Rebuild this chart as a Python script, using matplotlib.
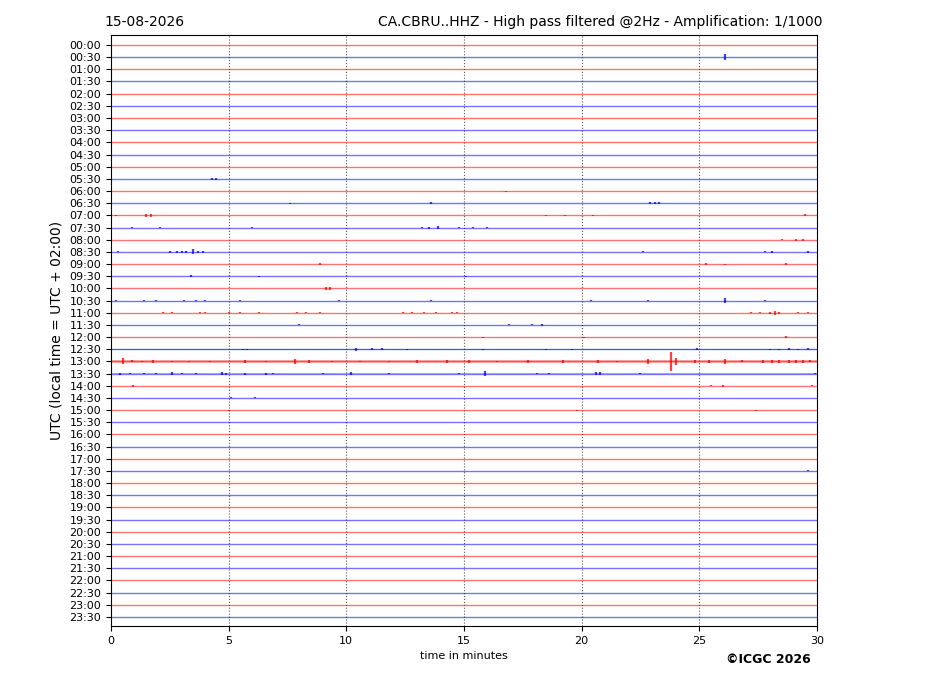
import matplotlib
matplotlib.use("Agg")
import matplotlib.pyplot as plt

# one row every 30 minutes, 48 rows
row_labels = ["%02d:%02d" % (h, m) for h in range(24) for m in (0, 30)]
row_colors = ["red", "blue"]

# background noise half-amplitude per row (row units), mostly tiny
noise = [0.0] * 48
noise[26] = 0.09
noise[27] = 0.07
noise[25] = 0.03
noise[17] = 0.02

# events: row index -> list of (minute, half amplitude in row units)
events = {
    1: [(26.1, 0.25)],
    11: [(4.3, 0.08), (4.45, 0.06)],
    12: [(16.8, 0.04), (22.1, 0.03)],
    13: [(7.6, 0.04), (13.6, 0.07), (22.9, 0.09), (23.1, 0.08), (23.3, 0.06)],
    14: [(0.2, 0.04), (1.5, 0.14), (1.7, 0.14), (18.5, 0.03), (19.3, 0.05), (20.5, 0.04), (29.5, 0.09)],
    15: [(0.9, 0.07), (2.1, 0.07), (6.0, 0.03), (13.2, 0.07), (13.5, 0.08), (13.9, 0.09),
         (14.8, 0.07), (15.4, 0.04), (16.0, 0.04)],
    16: [(28.5, 0.05), (29.1, 0.07), (29.4, 0.09)],
    17: [(0.3, 0.04), (2.5, 0.08), (2.8, 0.09), (3.0, 0.1), (3.2, 0.1), (3.5, 0.2), (3.7, 0.1),
         (3.9, 0.06), (21.8, 0.03), (22.6, 0.04), (27.8, 0.05), (28.1, 0.08), (29.6, 0.09)],
    18: [(8.9, 0.05), (12.6, 0.03), (25.3, 0.05), (26.1, 0.04), (28.7, 0.05)],
    19: [(3.4, 0.07), (6.3, 0.03), (15.1, 0.05)],
    20: [(9.15, 0.15), (9.3, 0.13)],
    21: [(0.2, 0.04), (1.4, 0.05), (1.9, 0.05), (3.1, 0.05), (3.6, 0.05), (4.0, 0.06), (5.5, 0.07),
         (9.7, 0.05), (13.6, 0.04), (20.4, 0.06), (22.8, 0.05), (26.1, 0.18), (27.8, 0.04)],
    22: [(2.2, 0.05), (2.6, 0.05), (3.8, 0.04), (4.0, 0.04), (5.0, 0.05), (5.5, 0.04), (6.3, 0.05),
         (7.9, 0.05), (8.3, 0.04), (8.9, 0.05), (12.4, 0.06), (12.8, 0.06), (13.3, 0.06), (13.8, 0.05),
         (14.5, 0.06), (14.7, 0.06), (27.2, 0.04), (27.6, 0.05), (28.0, 0.1), (28.2, 0.15),
         (28.4, 0.1), (29.2, 0.05), (29.6, 0.05)],
    23: [(8.0, 0.04), (16.9, 0.04), (17.9, 0.04), (18.3, 0.08)],
    24: [(15.8, 0.04), (20.1, 0.04), (28.7, 0.05)],
    25: [(5.6, 0.06), (5.8, 0.06), (10.4, 0.12), (11.1, 0.07), (11.5, 0.08), (12.6, 0.06),
         (15.8, 0.05), (18.5, 0.06), (19.6, 0.06), (24.9, 0.1), (28.0, 0.06), (28.4, 0.06),
         (28.8, 0.07), (29.2, 0.06), (29.6, 0.07)],
    26: [(0.5, 0.25), (0.9, 0.08), (1.3, 0.07), (1.8, 0.1), (2.6, 0.07), (3.3, 0.06), (4.2, 0.07),
         (5.7, 0.1), (6.6, 0.06), (7.8, 0.2), (8.4, 0.12), (9.4, 0.06), (10.6, 0.06), (11.8, 0.07),
         (13.0, 0.1), (14.3, 0.09), (15.2, 0.1), (16.4, 0.07), (17.7, 0.1), (19.2, 0.09),
         (20.7, 0.1), (21.5, 0.06), (22.8, 0.18), (23.8, 0.75), (24.0, 0.3), (24.8, 0.12),
         (25.4, 0.15), (26.1, 0.2), (26.8, 0.08), (27.7, 0.12), (28.1, 0.12), (28.4, 0.1),
         (28.8, 0.12), (29.1, 0.1), (29.4, 0.12), (29.7, 0.08)],
    27: [(0.4, 0.08), (0.8, 0.06), (1.4, 0.07), (1.9, 0.06), (2.6, 0.09), (3.0, 0.06), (3.6, 0.06),
         (4.7, 0.1), (4.9, 0.08), (5.7, 0.08), (6.6, 0.08), (6.9, 0.07), (9.0, 0.07), (10.2, 0.15),
         (11.8, 0.04), (14.8, 0.06), (15.9, 0.2), (18.1, 0.05), (18.6, 0.05), (20.6, 0.09),
         (20.8, 0.1), (22.5, 0.05), (29.9, 0.06)],
    28: [(0.95, 0.07), (25.5, 0.05), (26.0, 0.08), (29.8, 0.04)],
    29: [(5.1, 0.04), (6.1, 0.04)],
    30: [(4.3, 0.03), (5.0, 0.04), (19.8, 0.04), (27.4, 0.04)],
    35: [(1.5, 0.03), (1.9, 0.03), (29.6, 0.04)],
}

minutes = [0, 5, 10, 15, 20, 25, 30]

fig = plt.figure(figsize=(9.27, 6.96), dpi=100)
ax = fig.add_axes([0.1197, 0.1006, 0.7616, 0.8491])

for m in minutes[1:-1]:
    ax.axvline(m, color="0.35", ls=":", lw=0.8, zorder=0)

for i in range(len(row_labels)):
    c = row_colors[i % 2]
    if noise[i] > 0:
        ax.fill_between([0, 30], i - noise[i], i + noise[i], color=c, alpha=0.3, lw=0)
    ax.hlines(i, 0, 30, color=c, lw=1.0, alpha=0.55)
    for t, a in events.get(i, []):
        ax.vlines(t, i - a, i + a, color=c, lw=1.6, alpha=0.75)

ax.set_xlim(0, 30)
ax.set_ylim(47.74, -0.82)
ax.set_yticks(range(len(row_labels)))
ax.set_yticklabels(row_labels, fontsize=8)
ax.set_xticks(minutes)
ax.set_xticklabels([str(m) for m in minutes], fontsize=8)
ax.set_xlabel("time in minutes", fontsize=8)
ax.set_ylabel("UTC (local time = UTC + 02:00)", fontsize=10)

fig.text(0.113, 0.963, "15-08-2026", fontsize=10, ha="left", va="baseline")
fig.text(0.887, 0.963, "CA.CBRU..HHZ - High pass filtered @2Hz - Amplification: 1/1000",
         fontsize=10, ha="right", va="baseline")
fig.text(0.875, 0.047, "\u00a9ICGC 2026", fontsize=9, fontweight="bold", ha="right", va="baseline")

fig.savefig("out.png", dpi=100)
